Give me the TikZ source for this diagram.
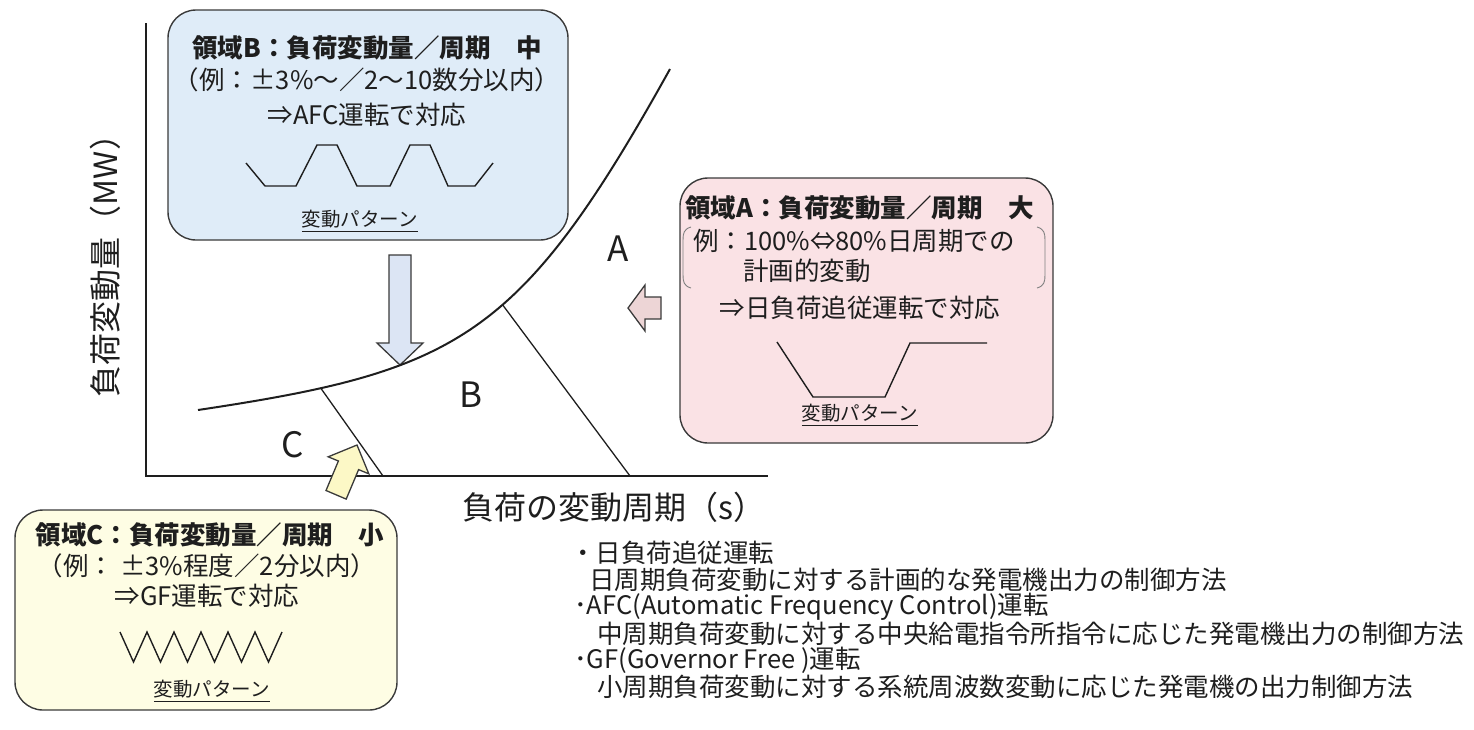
\documentclass[tikz,border=0pt]{standalone}
\usepackage{fontspec}
\setmainfont{Noto Sans CJK JP}
\definecolor{bfill}{HTML}{DFECF8}
\definecolor{afill}{HTML}{FAE2E5}
\definecolor{cfill}{HTML}{FEFDE4}
\definecolor{barrow}{HTML}{DCE5F4}
\definecolor{parrow}{HTML}{EDD5D6}
\definecolor{yarrow}{HTML}{FCF8C6}
\definecolor{edge}{HTML}{3A3A3A}
\definecolor{ink}{HTML}{1E1E1E}
\tikzset{
  box/.style={draw=edge, line width=1.4pt, rounded corners=28pt, inner sep=0pt},
  txt/.style={inner sep=0pt, text=ink, font=\fontsize{25.5}{30}\selectfont},
  ttl/.style={inner sep=0pt, text=ink, font=\fontsize{25.5}{30}\selectfont\bfseries},
  patlbl/.style={inner sep=0pt, text=ink, font=\fontsize{19.5}{22}\selectfont},
  region/.style={inner sep=0pt, text=ink, font=\fontsize{35}{40}\selectfont},
  axlbl/.style={inner sep=0pt, text=ink, font=\fontsize{32}{36}\selectfont},
  note/.style={inner sep=0pt, text=ink, anchor=west, font=\fontsize{25.5}{30}\selectfont},
  wave/.style={draw=ink, line width=1.4pt, line join=miter},
  blockarrow/.style={draw=edge, line width=1.3pt, line join=miter},
  uline/.style={draw=ink, line width=0.9pt},
  brack/.style={draw=gray, line width=0.9pt}
}
\begin{document}
\begin{tikzpicture}[x=1pt,y=-1pt]
\useasboundingbox (0,0) rectangle (1474,729);

% axes
\coordinate (ytop) at (146,23);
\coordinate (origin) at (146,476);
\coordinate (xend) at (768,476);
\draw[ink, line width=1.4pt] (ytop) -- (origin) -- (xend);

% blue arrow (under curve)
\draw[blockarrow, fill=barrow] (389,255) -- (411,255) -- (411,343) -- (423,343) -- (400,365) -- (377,343) -- (389,343) -- cycle;

% boundary curve
\draw[ink, line width=2pt] (198,410) .. controls (458,371) and (520,339) .. (670,69)
  coordinate[pos=0.18] (cTop) coordinate[pos=0.57] (bTop);
% region separators
\coordinate (cBot) at (383,476);
\coordinate (bBot) at (630,476);
\draw[ink, line width=1.3pt] (cTop) -- (cBot);
\draw[ink, line width=1.3pt] (bTop) -- (bBot);

% region letters
\node[region] (rA) at (618,249) {A};
\node[region] (rB) at (471,395) {B};
\node[region] (rC) at (293,445) {C};

% pink and yellow arrows
\draw[blockarrow, fill=parrow] (661,297) -- (645,297) -- (645,285) -- (628,308) -- (645,331) -- (645,319) -- (661,319) -- cycle;
\draw[blockarrow, fill=yarrow] (357,445) -- (368.8,473.8) -- (358.6,469.6) -- (346.2,499.1) -- (326.0,490.5) -- (338.4,461.0) -- (328.2,456.8) -- cycle;

% axis labels
\node[axlbl] (xlab) at (614,507) {負荷の変動周期（s）};
\node[axlbl, rotate=90] (ylab) at (105,258) {負荷変動量（MW）};

% ---------- Box B ----------
\node[box, fill=bfill, minimum width=400pt, minimum height=230pt] (boxB) at (368,125) {};
\node[ttl] (bT1) at (367,48) {領域B：負荷変動量／周期　中};
\node[txt] (bT2) at (367,80) {（例：±3\%～／2～10数分以内）};
\node[txt] (bT3) at (367,115) {⇒AFC運転で対応};
\draw[wave] (246,163) -- (265,186) -- (296,186) -- (317,145) -- (337,145) -- (357,186) -- (390,186) -- (410,145) -- (430,145) -- (448,186) -- (475,186) -- (493,163);
\node[patlbl] (bP) at (360,219) {変動パターン};
\draw[uline] ([yshift=-3pt]bP.south west) -- ([yshift=-3pt]bP.south east);

% ---------- Box A ----------
\node[box, fill=afill, minimum width=373pt, minimum height=265pt] (boxA) at (866.5,310.5) {};
\node[ttl, anchor=west] (aT1) at (685,208) {領域A：負荷変動量／周期　大};
\node[txt, anchor=west] (aT2) at (693,241) {例：100\%⇔80\%日周期での};
\node[txt, anchor=west] (aT3) at (743,271) {計画的変動};
\draw[brack] (691,227) .. controls (684,229) and (683,233) .. (683,240) -- (683,275) .. controls (683,282) and (684,286) .. (691,288);
\draw[brack] (1037,227) .. controls (1044,229) and (1045,233) .. (1045,240) -- (1045,275) .. controls (1045,282) and (1044,286) .. (1037,288);
\node[txt] (aT4) at (860,308) {⇒日負荷追従運転で対応};
\draw[wave] (777,342) -- (813,397) -- (885,397) -- (910,343) -- (987,343);
\node[patlbl] (aP) at (860,413) {変動パターン};
\draw[uline] ([yshift=-3pt]aP.south west) -- ([yshift=-3pt]aP.south east);

% ---------- Box C ----------
\node[box, fill=cfill, minimum width=382pt, minimum height=200pt] (boxC) at (206,610) {};
\node[ttl] (cT1) at (210,535) {領域C：負荷変動量／周期　小};
\node[txt] (cT2) at (207,566) {（例：  ±3\%程度／2分以内）};
\node[txt] (cT3) at (207,596) {⇒GF運転で対応};
\draw[wave] (120,632) -- (133.5,662) -- (147,632) -- (160.5,662) -- (174,632) -- (187.5,662) -- (201,632) -- (214.5,662) -- (228,632) -- (241.5,662) -- (255,632) -- (268.5,662) -- (282,632);
\node[patlbl] (cP) at (212,689) {変動パターン};
\draw[uline] ([yshift=-3pt]cP.south west) -- ([yshift=-3pt]cP.south east);

% ---------- notes ----------
\node[note] (n1) at (570,553) {・日負荷追従運転};
\node[note] (n2) at (589,580) {日周期負荷変動に対する計画的な発電機出力の制御方法};
\node[note] (n3) at (574,607) {･AFC(Automatic Frequency Control)運転};
\node[note] (n4) at (597,634) {中周期負荷変動に対する中央給電指令所指令に応じた発電機出力の制御方法};
\node[note] (n5) at (574,660) {･GF(Governor Free )運転};
\node[note] (n6) at (597,687) {小周期負荷変動に対する系統周波数変動に応じた発電機の出力制御方法};
\end{tikzpicture}
\end{document}
